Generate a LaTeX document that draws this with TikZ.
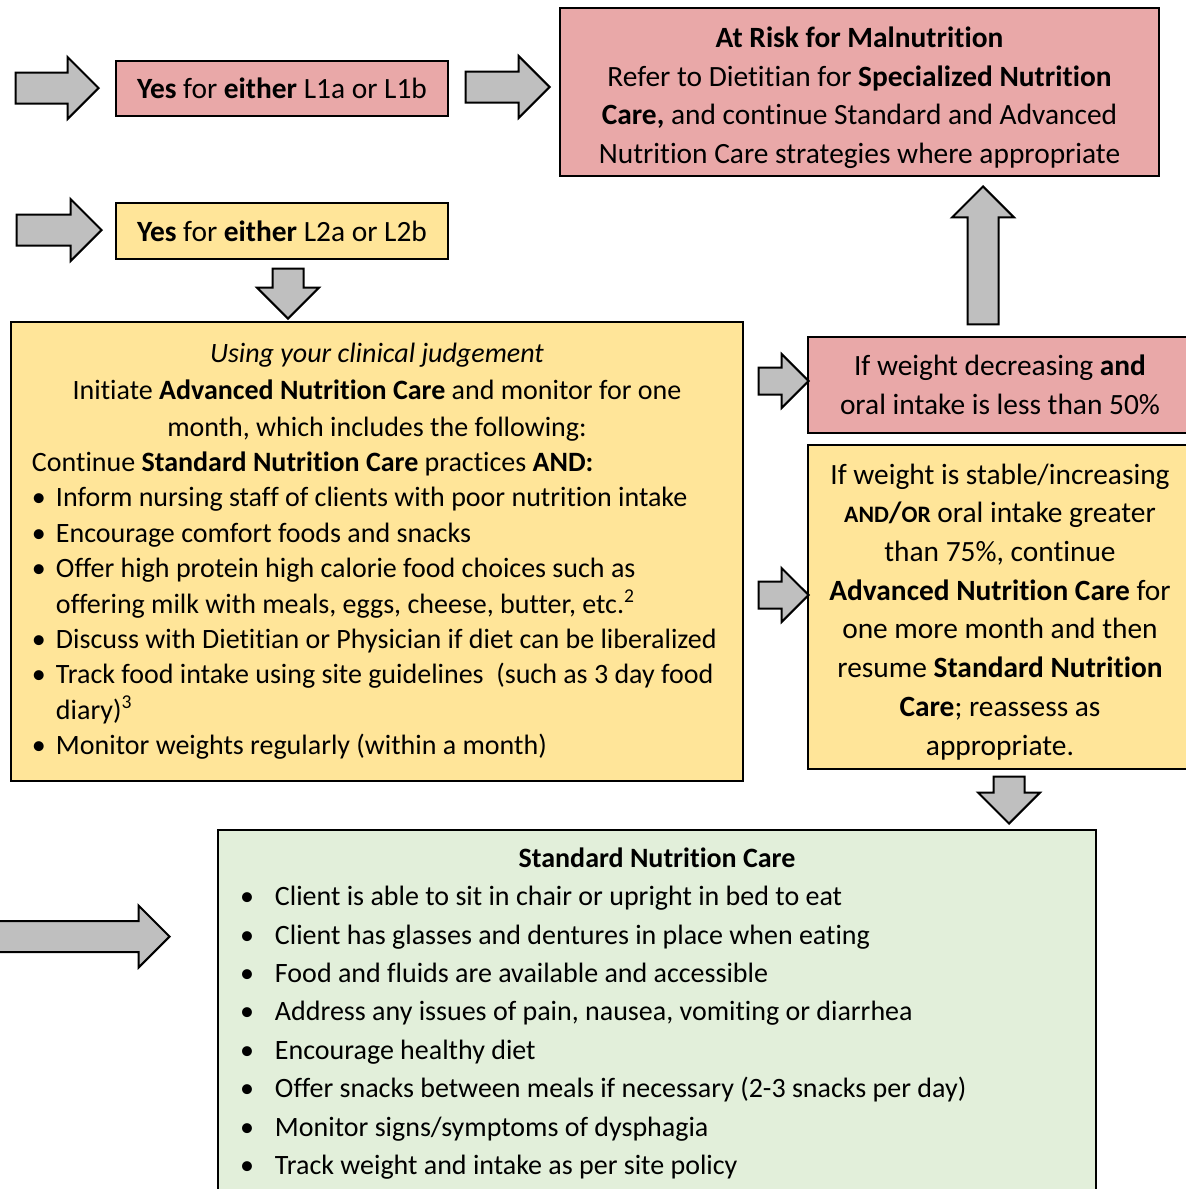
\documentclass[tikz,border=0pt]{standalone}
\usepackage{fontspec}
\setmainfont{Carlito}[Ligatures=NoCommon]
\usetikzlibrary{shapes.arrows}

\definecolor{riskpink}{HTML}{E9A8A8}
\definecolor{careyellow}{HTML}{FFE599}
\definecolor{stdgreen}{HTML}{E2EFDA}
\definecolor{arrowgray}{HTML}{BFBFBF}

\newcommand{\bitem}[2]{\par\hangindent=#1\hangafter=1\noindent\makebox[#1][l]{\textbullet}#2}
\newcommand{\smallcap}[1]{{\fontsize{11.8}{19.35}\selectfont #1}}

\begin{document}
\begin{tikzpicture}[x=0.5pt,y=-0.5pt,
                    box/.style={draw, line width=0.7pt, align=center, inner sep=0pt, font=\fontsize{14.7}{19.35}\selectfont},
                    risk/.style={box, fill=riskpink},
                    care/.style={box, fill=careyellow},
                    standard/.style={box, fill=stdgreen},
                    fleche/.style={single arrow, draw, line width=1pt, fill=arrowgray, inner sep=7.25pt, single arrow head extend=7.75pt, single arrow tip angle=90, anchor=tip},
                    petite/.style={fleche, inner sep=6.25pt, single arrow head extend=6.75pt}]

	\useasboundingbox (0,0) rectangle (1185,1189);

	\node[risk, minimum width=166pt, minimum height=27.5pt] (L1) at (282,88.5) {\textbf{Yes} for \textbf{either} L1a or L1b};

	\node[risk, minimum width=299.5pt, minimum height=84pt] (Risk) at (859.5,92) {\rule{0pt}{16pt}\textbf{At Risk for Malnutrition}\\ Refer to Dietitian for \textbf{Specialized Nutrition}\\ \textbf{Care,} and continue Standard and Advanced\\ Nutrition Care strategies where appropriate};

	\node[care, minimum width=166pt, minimum height=28pt] (L2) at (282,231) {\textbf{Yes} for \textbf{either} L2a or L2b};

	\node[care, line width=1pt, minimum width=366pt, minimum height=229.5pt, text width=345pt, align=flush left, font=\fontsize{14}{17.7}\selectfont] (Advanced) at (377,551) {%
		{\centering\fontsize{14}{18.5}\selectfont \textit{Using your clinical judgement}\break Initiate \textbf{Advanced Nutrition Care} and monitor for one\break month, which includes the following:\par}
		\noindent Continue \textbf{Standard Nutrition Care} practices \textbf{AND:}
		\bitem{12pt}{Inform nursing staff of clients with poor nutrition intake}
		\bitem{12pt}{Encourage comfort foods and snacks}
		\bitem{12pt}{Offer high protein high calorie food choices such as\break offering milk with meals, eggs, cheese, butter, etc.\textsuperscript{2}}
		\bitem{12pt}{Discuss with Dietitian or Physician if diet can be liberalized}
		\bitem{12pt}{Track food intake using site guidelines~ (such as 3 day food\break diary)\textsuperscript{3}}
		\bitem{12pt}{Monitor weights regularly (within a month)}};

	\node[risk, minimum width=192pt, minimum height=48pt] (Decrease) at (1000,385) {If weight decreasing \textbf{and}\\ oral intake is less than 50\%};

	\node[care, minimum width=192pt, minimum height=162pt] (Stable) at (1000,607) {\rule{0pt}{15pt}If weight is stable/increasing\\ \textbf{\smallcap{AND}/\smallcap{OR}} oral intake greater\\ than 75\%, continue\\ \textbf{Advanced Nutrition Care} for\\ one more month and then\\ resume \textbf{Standard Nutrition}\\ \textbf{Care}; reassess as\\ appropriate.};

	\node[standard, minimum width=439pt, minimum height=183.5pt, text width=417pt, align=flush left, font=\fontsize{14}{19.2}\selectfont] (Standard) at (657,1013.5) {%
		{\centering \textbf{Standard Nutrition Care}\par}
		\bitem{17.5pt}{Client is able to sit in chair or upright in bed to eat}
		\bitem{17.5pt}{Client has glasses and dentures in place when eating}
		\bitem{17.5pt}{Food and fluids are available and accessible}
		\bitem{17.5pt}{Address any issues of pain, nausea, vomiting or diarrhea}
		\bitem{17.5pt}{Encourage healthy diet}
		\bitem{17.5pt}{Offer snacks between meals if necessary (2-3 snacks per day)}
		\bitem{17.5pt}{Monitor signs/symptoms of dysphagia}
		\bitem{17.5pt}{Track weight and intake as per site policy}};

	% block arrows, placed by their tips
	\node[fleche, minimum height=41.5pt] (inL1) at (100,88) {};
	\node[fleche, minimum height=42pt] (toRisk) at (551,87) {};
	\node[fleche, minimum height=42.5pt] (inL2) at (103,230) {};
	\node[fleche, minimum height=25pt, rotate=-90] (toAdvanced) at (288,320) {};
	\node[fleche, minimum height=69pt, rotate=90] (upRisk) at (983,185) {};
	\node[petite, minimum height=25pt] (toDecrease) at (810,381) {};
	\node[petite, minimum height=25pt] (toStable) at (810,595) {};
	\node[fleche, minimum height=23.5pt, rotate=-90] (toStandard) at (1009,825) {};
	\node[fleche, minimum height=91pt] (inStandard) at (171,936.5) {};

\end{tikzpicture}
\end{document}
